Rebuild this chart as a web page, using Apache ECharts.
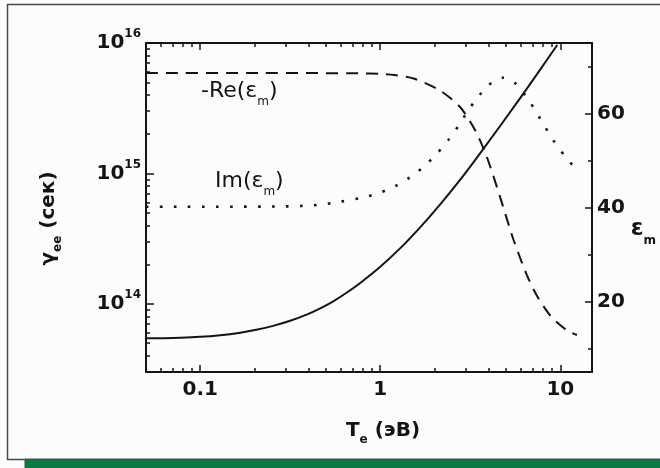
<!DOCTYPE html>
<html>
<head>
<meta charset="utf-8">
<script src="https://cdn.jsdelivr.net/npm/echarts@6/dist/echarts.min.js"></script>
<style>
html,body{margin:0;padding:0;background:#fcfcfc;}
#c{width:660px;height:468px;}
</style>
</head>
<body>
<div id="c"></div>
<script>
// ---- data ----
const gammaT   = [0.05, 0.071, 0.1, 0.129, 0.167, 0.205, 0.254, 0.316, 0.393, 0.464, 0.548, 0.647, 0.774, 1.0, 1.31, 1.67, 2.2, 2.86, 3.67, 6.0, 9.62];
const gammaVal = [5.44e13, 5.47e13, 5.58e13, 5.74e13, 6.01e13, 6.32e13, 6.77e13, 7.41e13, 8.30e13, 9.23e13, 1.046e14, 1.21e14, 1.445e14, 1.924e14, 2.72e14, 3.87e14, 6.0e14, 9.4e14, 1.488e15, 3.79e15, 9.65e15];

const reT   = [0.05, 0.224, 0.774, 1.0, 1.196, 1.531, 2.154, 2.783, 3.37, 3.915, 4.642, 5.503, 6.53, 7.42, 8.8, 10.9, 12.38];
const reVal = [68.61, 68.61, 68.55, 68.42, 68.19, 67.45, 64.87, 61.33, 56.4, 50.69, 42.1, 33.08, 25.57, 21.23, 17.0, 13.83, 12.87];

const imT   = [0.05, 0.278, 0.408, 0.495, 0.6, 0.843, 1.022, 1.212, 1.455, 1.74, 2.066, 2.396, 2.724, 3.03, 3.445, 4.0, 4.358, 4.806, 5.207, 5.689, 6.617, 7.418, 8.254, 9.18, 10.53, 12.3];
const imVal = [40.15, 40.21, 40.42, 40.74, 41.21, 42.33, 43.32, 44.55, 46.35, 48.63, 51.47, 54.43, 57.4, 60.21, 63.28, 66.03, 67.09, 67.62, 67.3, 66.24, 63.07, 60.04, 57.08, 54.22, 51.07, 48.04];

// ---- ticks ----
const xMajor = [0.1, 1, 10];
const xMinor = [0.06,0.07,0.08,0.09,0.2,0.3,0.4,0.5,0.6,0.7,0.8,0.9,2,3,4,5,6,7,8,9];
const yLeftMajor = [1e14, 1e15, 1e16];
const yLeftMinor = [4e13,5e13,6e13,7e13,8e13,9e13,2e14,3e14,4e14,5e14,6e14,7e14,8e14,9e14,2e15,3e15,4e15,5e15,6e15,7e15,8e15,9e15];
const yRightMajor = [20, 40, 60];
const yRightMinor = [10, 30, 50, 70];

const zip = (a, b) => a.map((v, i) => [v, b[i]]);
const INK = '#141414';
const TF = 'DejaVu Sans';

const lineCommon = {show: true, lineStyle: {color: INK, width: 2}};

function xAx(pos, ticks, len, labels, line) {
  return {
    type: 'log', logBase: 10, min: 0.05, max: 15, position: pos,
    axisLine: line ? lineCommon : {show: false},
    axisTick: {show: true, inside: true, length: len, customValues: ticks, lineStyle: {color: INK, width: 1.5}},
    axisLabel: labels ? {show: true, customValues: ticks, margin: 8, color: INK,
      fontFamily: TF, fontWeight: 'bold', fontSize: 20,
      formatter: v => (v >= 1 ? String(Math.round(v)) : String(v))} : {show: false},
    splitLine: {show: false}
  };
}

const xAxes = [
  Object.assign(xAx('bottom', xMajor, 7, true, true), {
    name: 'T{sub|e} (эВ)', nameLocation: 'middle', nameGap: 44,
    nameTextStyle: {color: INK, fontFamily: TF, fontWeight: 'bold', fontSize: 20, lineHeight: 30, padding: [0,0,0,28],
      rich: {sub: {fontFamily: TF, fontWeight: 'bold', fontSize: 12, lineHeight: 10, verticalAlign: 'bottom'}}}
  }),
  xAx('bottom', xMinor, 4, false, false),
  xAx('top', xMajor, 7, false, true),
  xAx('top', xMinor, 4, false, false)
];

const yAxes = [
  {
    type: 'log', logBase: 10, min: 3e13, max: 1e16, position: 'left',
    axisLine: lineCommon,
    axisTick: {show: true, inside: true, length: 8, customValues: yLeftMajor, lineStyle: {color: INK, width: 1.5}},
    axisLabel: {show: true, customValues: yLeftMajor, margin: 5, color: INK,
      formatter: v => '{b|10}{s|' + Math.round(Math.log10(v)) + '}',
      rich: {
        b: {fontFamily: TF, fontWeight: 'bold', fontSize: 20, lineHeight: 30, color: INK},
        s: {fontFamily: TF, fontWeight: 'bold', fontSize: 12, lineHeight: 12, verticalAlign: 'top', color: INK}
      }},
    splitLine: {show: false},
    name: 'γ{sub|ee} (сек)', nameLocation: 'middle', nameGap: 82, nameRotate: 90,
    nameTextStyle: {color: INK, fontFamily: TF, fontWeight: 'bold', fontSize: 20, lineHeight: 30, padding: [0, 22, 0, 0],
      rich: {sub: {fontFamily: TF, fontWeight: 'bold', fontSize: 12, lineHeight: 10, verticalAlign: 'bottom'}}}
  },
  {
    type: 'log', logBase: 10, min: 3e13, max: 1e16, position: 'left',
    axisLine: {show: false},
    axisTick: {show: true, inside: true, length: 4, customValues: yLeftMinor, lineStyle: {color: INK, width: 1.5}},
    axisLabel: {show: false}, splitLine: {show: false}
  },
  {
    type: 'value', min: 5, max: 75, position: 'right',
    axisLine: lineCommon,
    axisTick: {show: true, inside: true, length: 7, customValues: yRightMajor, lineStyle: {color: INK, width: 1.5}},
    axisLabel: {show: true, customValues: yRightMajor, margin: 5, color: INK,
      fontFamily: TF, fontWeight: 'bold', fontSize: 20},
    splitLine: {show: false},
    name: 'ε{sub|m}', nameLocation: 'middle', nameGap: 38, nameRotate: 0,
    nameTextStyle: {color: INK, fontFamily: TF, fontWeight: 'bold', fontSize: 23, lineHeight: 34, align: 'left', padding: [44,0,0,0],
      rich: {sub: {fontFamily: TF, fontSize: 12, lineHeight: 10, verticalAlign: 'bottom'}}}
  },
  {
    type: 'value', min: 5, max: 75, position: 'right',
    axisLine: {show: false},
    axisTick: {show: true, inside: true, length: 4, customValues: yRightMinor, lineStyle: {color: INK, width: 1.5}},
    axisLabel: {show: false}, splitLine: {show: false}
  }
];

const labRich = {
  sub: {fontFamily: TF, fontSize: 12, lineHeight: 10, verticalAlign: 'bottom', fill: INK}
};

const option = {
  backgroundColor: '#fcfcfc',
  animation: false,
  grid: {left: 146, right: 68, top: 43, bottom: 96},
  xAxis: xAxes,
  yAxis: yAxes,
  series: [
    {type: 'line', name: 'gamma', xAxisIndex: 0, yAxisIndex: 0, data: zip(gammaT, gammaVal),
     showSymbol: false, smooth: 0.25, lineStyle: {color: INK, width: 2}},
    {type: 'line', name: 'Re', xAxisIndex: 0, yAxisIndex: 2, data: zip(reT, reVal),
     showSymbol: false, smooth: 0.25, lineStyle: {color: INK, width: 2, type: [12, 8]}},
    {type: 'line', name: 'Im', xAxisIndex: 0, yAxisIndex: 2, data: zip(imT, imVal),
     showSymbol: false, smooth: 0.25, lineStyle: {color: INK, width: 2.6, type: [2.6, 11.4]}}
  ],
  graphic: [
    {type: 'polyline', shape: {points: [[25, 459.5], [7.5, 459.5], [7.5, 4.5], [660, 4.5]]},
     style: {stroke: '#4a4a4a', lineWidth: 1.5, fill: null}},
    {type: 'rect', shape: {x: 25, y: 459, width: 640, height: 12},
     style: {fill: '#0b7a45', stroke: '#4a4a4a', lineWidth: 1}},
    {type: 'text', left: 201, top: 75,
     style: {text: '-Re(ε{sub|m})', fontFamily: TF, fontSize: 22, lineHeight: 33, fill: INK, rich: labRich}},
    {type: 'text', left: 215, top: 165,
     style: {text: 'Im(ε{sub|m})', fontFamily: TF, fontSize: 22, lineHeight: 33, fill: INK, rich: labRich}}
  ]
};

const chart = echarts.init(document.getElementById('c'), null, {renderer: 'canvas'});
chart.setOption(option);
</script>
</body>
</html>
